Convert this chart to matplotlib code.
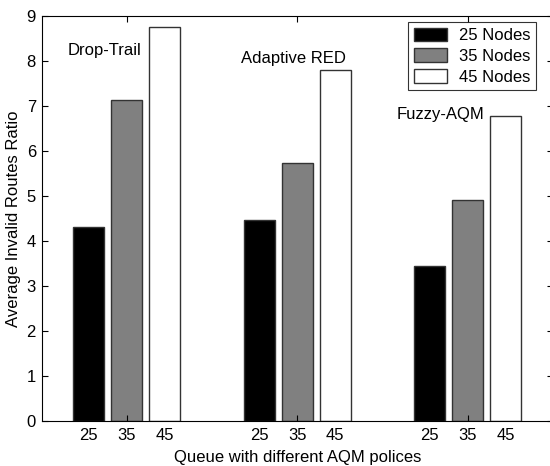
import numpy as np
import matplotlib
matplotlib.use("Agg")
import matplotlib.pyplot as plt

# data
policies = ["Drop-Trail", "Adaptive RED", "Fuzzy-AQM"]
node_labels = ["25 Nodes", "35 Nodes", "45 Nodes"]
node_ticks = ["25", "35", "45"]
nodes25 = [4.30, 4.46, 3.44]
nodes35 = [7.12, 5.74, 4.91]
nodes45 = [8.75, 7.80, 6.78]
bar_colors = ["black", "#808080", "white"]

plt.rcParams['font.family'] = ['Liberation Sans', 'DejaVu Sans']

fig = plt.figure(figsize=(5.5, 4.66), dpi=100)
ax = fig.add_axes([0.0755, 0.0966, 0.930, 0.8697])

x = np.arange(1, len(policies) + 1)
offset = 0.222
width = 0.182
series = [nodes25, nodes35, nodes45]
for i, vals in enumerate(series):
    ax.bar(x + (i - 1) * offset, vals, width=width, color=bar_colors[i],
           edgecolor='#333333', linewidth=1.0, label=node_labels[i])

ax.set_xlim(0.5, 3.5)
ax.set_ylim(0, 9)
ax.set_yticks(range(10))
ax.set_xticks(x)
ax.set_xticklabels([])
# bar labels under each bar via minor ticks
ax.xaxis.remove_overlapping_locs = False
minor_pos = np.concatenate([x + (i - 1) * offset for i in range(3)])
minor_lab = [node_ticks[i] for i in range(3) for _ in x]
ax.set_xticks(minor_pos, minor=True)
ax.set_xticklabels(minor_lab, minor=True)
ax.tick_params(axis='x', which='minor', length=0, pad=5, labelsize=12)
ax.tick_params(axis='both', which='major', direction='in', length=4,
               top=True, right=True, labelsize=12, width=0.8)
ax.tick_params(axis='y', pad=4)

ax.set_xlabel("Queue with different AQM polices", fontsize=12, labelpad=5)
ax.set_ylabel("Average Invalid Routes Ratio", fontsize=12, labelpad=4)

# policy names near each group
ax.text(1.088, 8.22, "Drop-Trail", ha='right', va='center', fontsize=12)
ax.text(2.284, 8.06, "Adaptive RED", ha='right', va='center', fontsize=12)
ax.text(3.100, 6.80, "Fuzzy-AQM", ha='right', va='center', fontsize=12)

leg = ax.legend(loc='upper right', bbox_to_anchor=(0.967, 0.985), fontsize=12,
                frameon=True, fancybox=False, edgecolor='black',
                handlelength=2.0, handleheight=0.9, labelspacing=0.3,
                borderpad=0.35, handletextpad=0.7, borderaxespad=0)
leg.get_frame().set_linewidth(0.8)

plt.savefig("out.png", dpi=100)
